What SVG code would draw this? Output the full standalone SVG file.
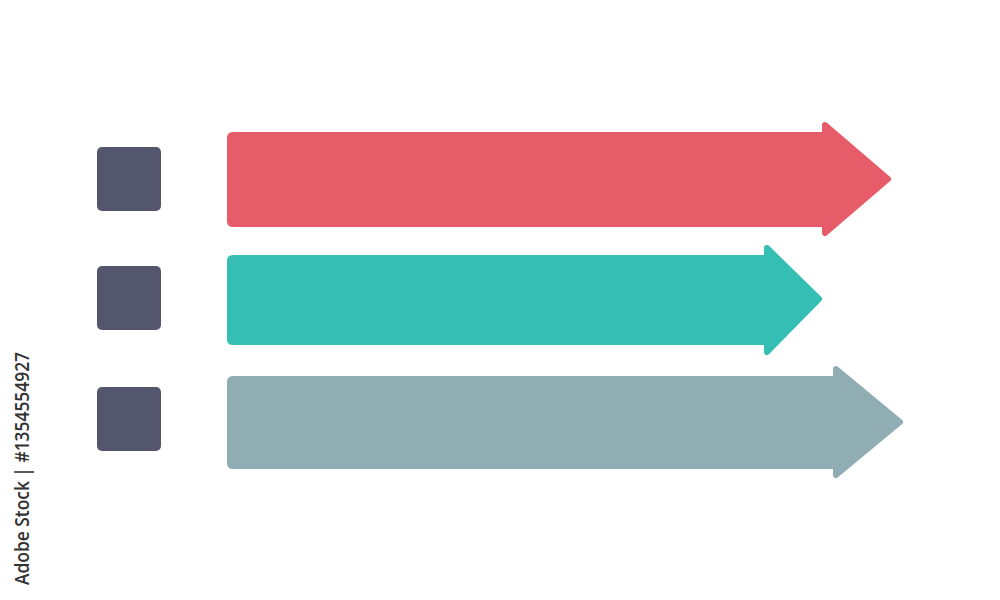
<svg xmlns="http://www.w3.org/2000/svg" width="1000" height="600" viewBox="0 0 1000 600">
<style>
.sq{fill:#54566E}
.ar{stroke-linejoin:round;stroke-width:6}
.red{fill:#E65C68;stroke:#E65C68}
.teal{fill:#35BEB3;stroke:#35BEB3}
.gray{fill:#90ADB4;stroke:#90ADB4}
.wm{font-family:"Open Sans","DejaVu Sans",sans-serif;font-size:19px;font-weight:600;fill:#333333}
</style>
<rect width="1000" height="600" fill="#FFFFFF"/>
<g id="square1"><rect class="sq" x="97" y="147" width="64" height="64" rx="5"/></g>
<g id="square2"><rect class="sq" x="97" y="266" width="64" height="64" rx="5"/></g>
<g id="square3"><rect class="sq" x="97" y="387" width="64" height="64" rx="5"/></g>
<g id="arrow1"><path class="ar red" d="M233,135 H825 V125 L888,179 L825,233 V224 H233 Q230,224 230,221 V138 Q230,135 233,135 Z"/></g>
<g id="arrow2"><path class="ar teal" d="M233,258 H767 V248 L819,299 L767,352 V342 H233 Q230,342 230,339 V261 Q230,258 233,258 Z"/></g>
<g id="arrow3"><path class="ar gray" d="M233,379 H836 V369 L900,422 L836,475 V466 H233 Q230,466 230,463 V382 Q230,379 233,379 Z"/></g>
<g id="connectors"></g>
<text class="wm" transform="translate(29,585) rotate(-90)" textLength="233" lengthAdjust="spacingAndGlyphs">Adobe Stock | #1354554927</text>
</svg>
